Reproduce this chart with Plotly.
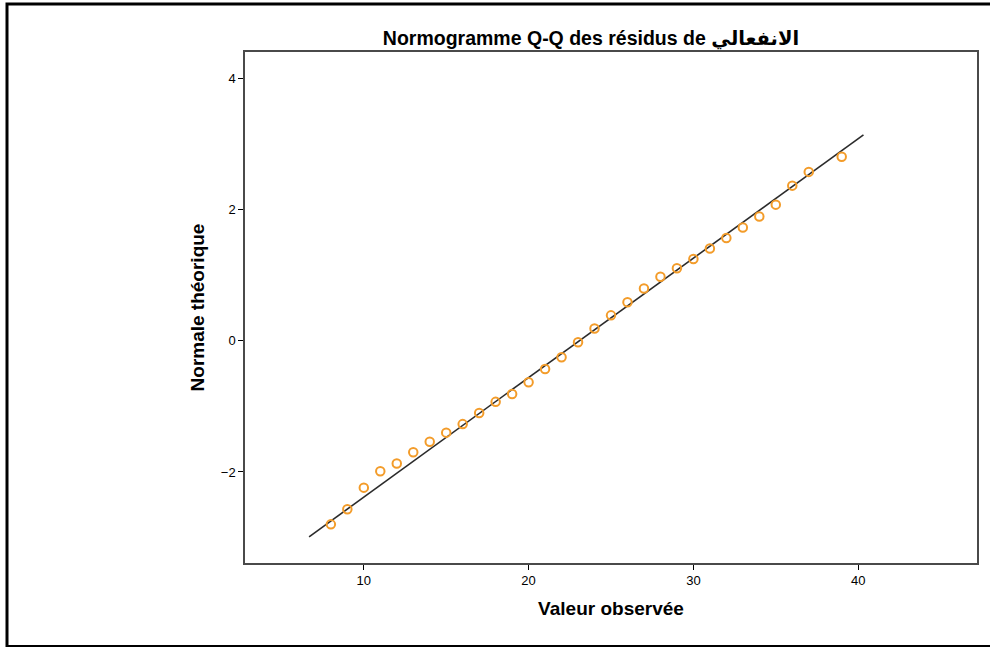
import plotly.graph_objects as go

observed = [8, 9, 10, 11, 12, 13, 14, 15, 16, 17, 18, 19, 20, 21, 22, 23,
            24, 25, 26, 27, 28, 29, 30, 31, 32, 33, 34, 35, 36, 37, 39]
expected_normal = [-2.80, -2.57, -2.24, -1.99, -1.87, -1.70, -1.54, -1.40, -1.27,
                   -1.10, -0.93, -0.81, -0.63, -0.43, -0.25, -0.02, 0.19, 0.39,
                   0.59, 0.80, 0.98, 1.11, 1.25, 1.41, 1.57, 1.73, 1.90, 2.08,
                   2.37, 2.58, 2.81]
ref_line_x = [6.68, 40.32]
ref_line_y = [-2.99, 3.145]

x_ticks = [10, 20, 30, 40]
y_ticks = [-2, 0, 2, 4]

title_text = "Normogramme Q-Q des résidus de الانفعالي"
x_title = "Valeur observée"
y_title = "Normale théorique"

FONT = "Liberation Sans, Arial, DejaVu Sans, sans-serif"

fig = go.Figure()
fig.add_trace(go.Scatter(
    x=ref_line_x, y=ref_line_y, mode="lines",
    line=dict(color="#2b2b2b", width=1.6), hoverinfo="skip", showlegend=False))
fig.add_trace(go.Scatter(
    x=observed, y=expected_normal, mode="markers",
    marker=dict(symbol="circle-open", size=8.5, color="#F39C2A",
                line=dict(width=2, color="#F39C2A")),
    showlegend=False))

L, R, T, B = 245, 977, 52, 563
W, H = 990, 647
pw, ph = R - L, B - T

def px(xp):
    return (xp - L) / pw

def py(yp):
    return (B - yp) / ph

fig.update_layout(
    width=W, height=H,
    margin=dict(l=L, r=W - R, t=T, b=H - B, pad=0),
    paper_bgcolor="white", plot_bgcolor="white",
    font=dict(family=FONT, size=13, color="black"),
    title=dict(text="<b>" + title_text + "</b>", x=px(591), xref="paper",
               xanchor="center", y=1 - 38 / H, yanchor="middle",
               font=dict(size=19.5, family=FONT, color="black")),
    xaxis=dict(range=[2.79, 47.21], tickvals=x_ticks, ticks="outside",
               ticklen=5, tickwidth=1.2, tickcolor="black",
               showgrid=False, zeroline=False,
               showline=True, linecolor="#4a4a4a", linewidth=1.5, mirror=True,
               tickfont=dict(size=13, family=FONT),
               title=dict(text="<b>" + x_title + "</b>", standoff=14,
                          font=dict(size=19, family=FONT))),
    yaxis=dict(range=[-3.39, 4.41], tickvals=y_ticks, ticks="outside",
               ticklen=5, tickwidth=1.2, tickcolor="black",
               showgrid=False, zeroline=False,
               showline=True, linecolor="#4a4a4a", linewidth=1.5, mirror=True,
               tickfont=dict(size=13, family=FONT),
               title=dict(text="<b>" + y_title + "</b>", standoff=11,
                          font=dict(size=19, family=FONT))),
    shapes=[dict(type="rect", xref="paper", yref="paper",
                 x0=px(7), x1=px(993), y0=py(646.5), y1=py(4),
                 line=dict(color="black", width=3), fillcolor="rgba(0,0,0,0)",
                 layer="above")],
)

fig.write_html("out.html",
               config={"displayModeBar": False},
               post_script="document.body.style.margin='0';"
                           "document.body.style.overflow='hidden';")
